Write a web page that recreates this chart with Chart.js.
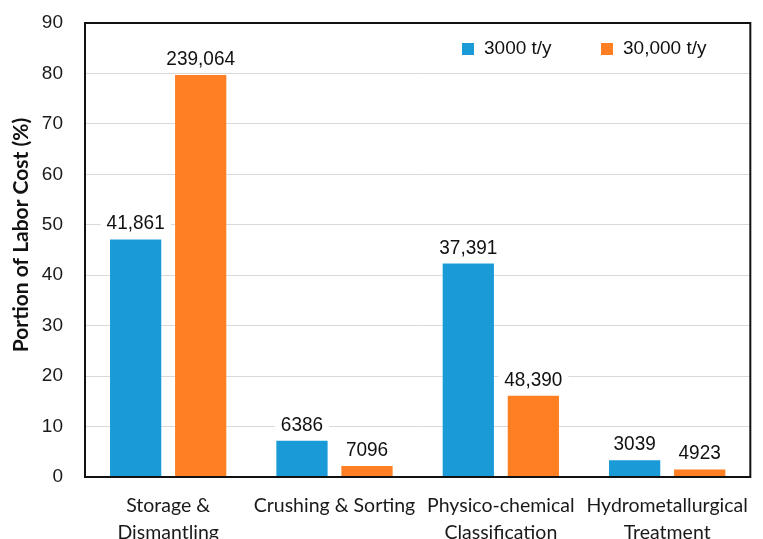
<!DOCTYPE html>
<html>
<head>
<meta charset="utf-8">
<script src="https://cdn.jsdelivr.net/npm/chart.js@4/dist/chart.umd.min.js"></script>
<style>
  html, body { margin: 0; padding: 0; background: #fff; }
  #wrap { width: 763px; height: 539px; }
</style>
</head>
<body>
<div id="wrap"><canvas id="myChart" width="763" height="539"></canvas></div>
<script>
// Datos del gráfico
const categories = [
    ['Storage &', 'Dismantling'],
    ['Crushing & Sorting'],
    ['Physico-chemical', 'Classification'],
    ['Hydrometallurgical', 'Treatment']
];
const seriesNames = ['3000 t/y', '30,000 t/y'];
const small = [47.1, 7.2, 42.3, 3.3];      // porcentaje 3000 t/y
const large = [79.7, 2.2, 16.1, 1.5];      // porcentaje 30,000 t/y
const smallLabels = ['41,861', '6386', '37,391', '3039'];
const largeLabels = ['239,064', '7096', '48,390', '4923'];
const yTicks = [0, 10, 20, 30, 40, 50, 60, 70, 80, 90];
const yTitle = 'Portion of Labor Cost (%)';

const blue = '#1a9bd7';
const orange = '#ff7f22';

// Etiquetas encima de cada barra, con fondo blanco
const barLabels = {
    id: 'barLabels',
    afterDatasetsDraw(chart) {
        const ctx = chart.ctx;
        const texts = [smallLabels, largeLabels];
        ctx.save();
        ctx.font = '19px "Liberation Sans", Arial, sans-serif';
        ctx.textAlign = 'center';
        ctx.textBaseline = 'alphabetic';
        chart.data.datasets.forEach((ds, i) => {
            chart.getDatasetMeta(i).data.forEach((bar, j) => {
                const t = texts[i][j];
                const w = ctx.measureText(t).width;
                const base = bar.y - 10;
                ctx.fillStyle = '#fff';
                ctx.fillRect(bar.x - w / 2 - 6, base - 18, w + 12, 23);
                ctx.fillStyle = '#111';
                // un poco más alto que ancho, como en el original
                ctx.save();
                ctx.translate(bar.x, base);
                ctx.scale(1, 1.1);
                ctx.fillText(t, 0, 0);
                ctx.restore();
            });
        });
        ctx.restore();
    }
};

// Marco, leyenda dentro del área y título del eje Y
const boxAndLegend = {
    id: 'boxAndLegend',
    afterDraw(chart) {
        const ctx = chart.ctx;
        const a = chart.chartArea;
        ctx.save();
        ctx.strokeStyle = '#111';
        ctx.lineWidth = 2;
        ctx.strokeRect(a.left, a.top, a.right - a.left, a.bottom - a.top);

        const items = [
            { text: seriesNames[0], color: blue, x: a.left + 377 },
            { text: seriesNames[1], color: orange, x: a.left + 516 }
        ];
        const y = a.top + 26;
        ctx.font = '19px "Liberation Sans", Arial, sans-serif';
        ctx.textBaseline = 'middle';
        ctx.textAlign = 'left';
        items.forEach(it => {
            ctx.fillStyle = it.color;
            ctx.fillRect(it.x, y - 6, 12, 12);
            ctx.fillStyle = '#111';
            ctx.fillText(it.text, it.x + 22, y);
        });

        // título del eje Y (un poco por encima del centro, como en el original)
        ctx.translate(21, (a.top + a.bottom) / 2 - 15);
        ctx.rotate(-Math.PI / 2);
        ctx.font = 'bold 21px Lato, "Noto Sans", sans-serif';
        ctx.textAlign = 'center';
        ctx.fillStyle = '#111';
        ctx.fillText(yTitle, 0, 0);
        ctx.restore();
    }
};

const ctx = document.getElementById('myChart').getContext('2d');
new Chart(ctx, {
    type: 'bar',
    data: {
        labels: categories,
        datasets: [
            { label: seriesNames[0], data: small, backgroundColor: blue },
            { label: seriesNames[1], data: large, backgroundColor: orange }
        ]
    },
    options: {
        responsive: false,
        animation: false,
        layout: { padding: { top: 23, right: 1, left: 0, bottom: 0 } },
        datasets: {
            bar: { categoryPercentage: 0.782, barPercentage: 0.788 }
        },
        plugins: {
            legend: { display: false },
            tooltip: { enabled: false }
        },
        scales: {
            x: {
                grid: { display: false, drawTicks: false },
                border: { display: false },
                ticks: {
                    color: '#1a1a1a',
                    font: { family: 'Lato, "Noto Sans", sans-serif', size: 19.5, lineHeight: 1.4 },
                    padding: 15,
                    maxRotation: 0,
                    autoSkip: false
                },
                afterFit: s => { s.height = 62; }
            },
            y: {
                min: 0,
                max: 90,
                afterBuildTicks: s => { s.ticks = yTicks.map(v => ({ value: v })); },
                grid: { color: '#d9d9d9', lineWidth: 1, tickLength: 22, tickColor: 'rgba(0,0,0,0)' },
                border: { display: false },
                ticks: {
                    color: '#1a1a1a',
                    font: { family: '"Liberation Sans", Arial, sans-serif', size: 19 },
                    padding: 0
                },
                afterFit: s => { s.width = 85; }
            }
        }
    },
    plugins: [barLabels, boxAndLegend]
});
</script>
</body>
</html>
